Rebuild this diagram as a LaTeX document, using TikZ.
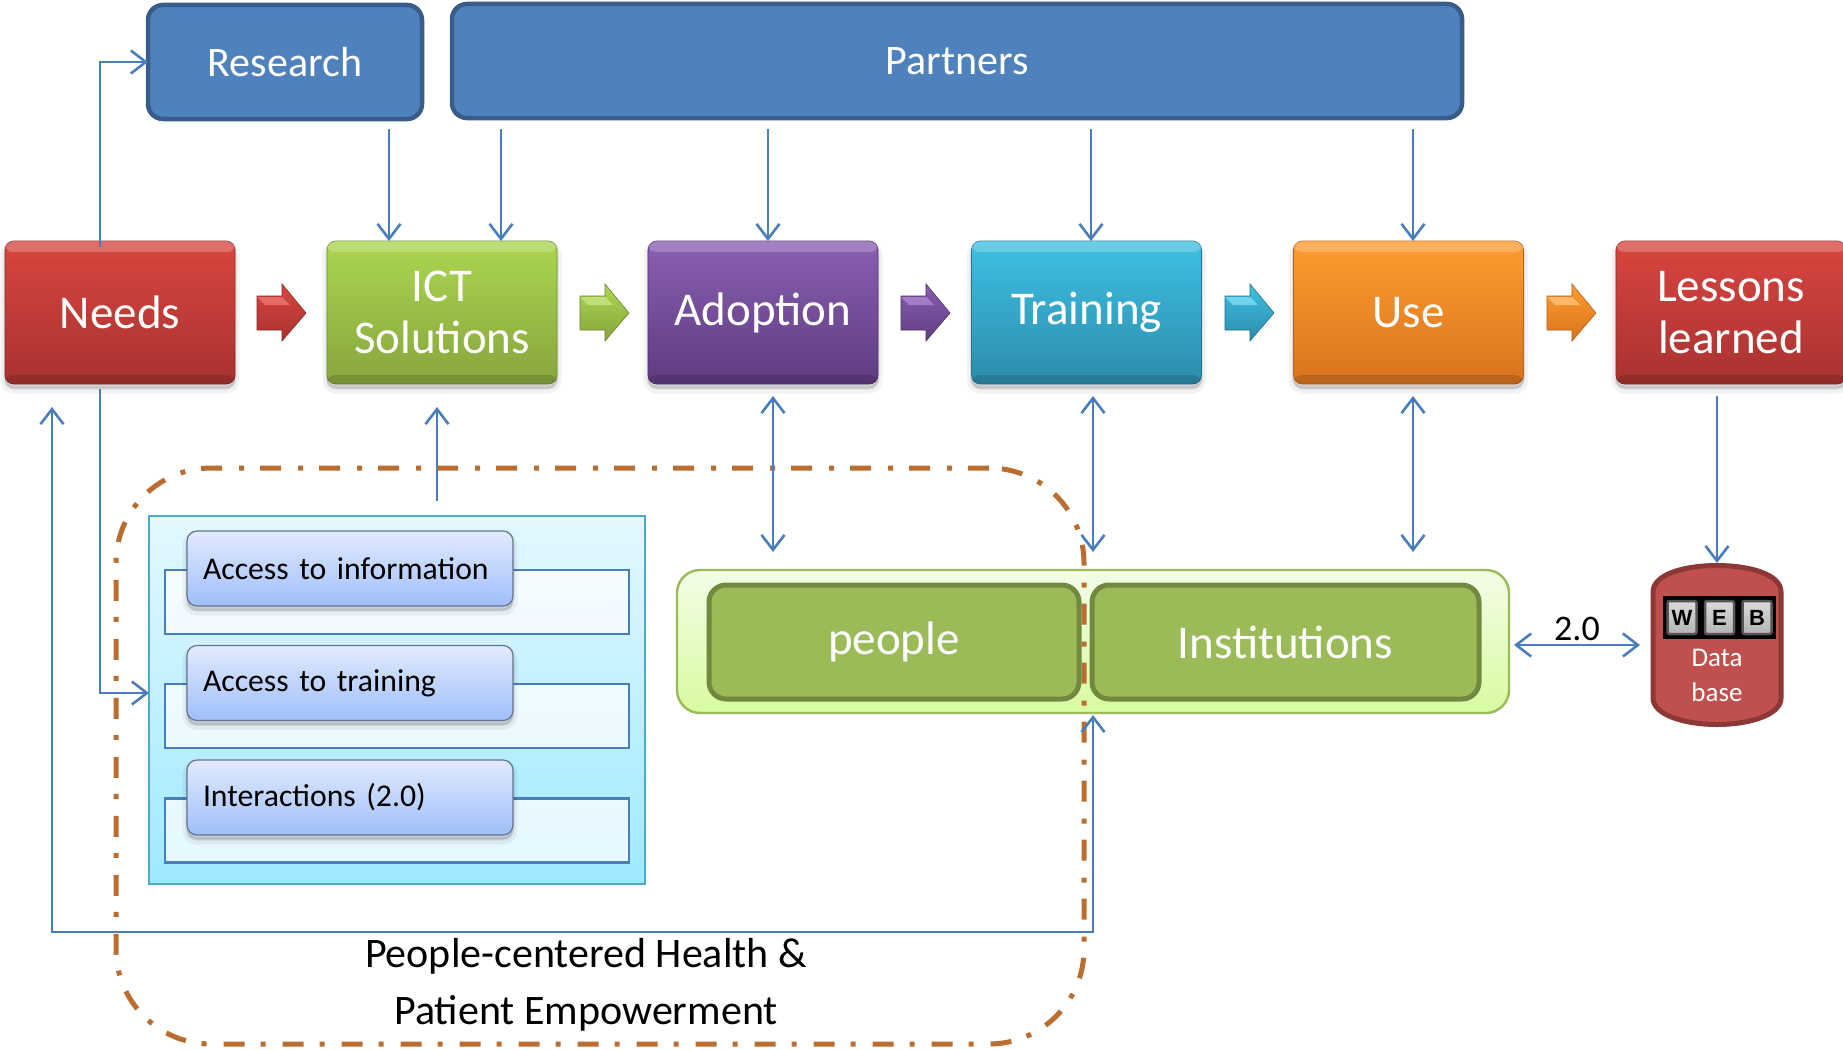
\documentclass[tikz,border=0pt]{standalone}
\usepackage{fontspec}
\setmainfont{Carlito}
\newfontfamily\keyfont{Liberation Sans}
\usetikzlibrary{arrows.meta,shadows,calc}
\definecolor{conn}{HTML}{4A7EBB}
\definecolor{dashc}{HTML}{B96D30}
\definecolor{redT}{HTML}{D9453F}\definecolor{redB}{HTML}{A83230}\definecolor{redL}{HTML}{EE7A76}
\definecolor{grnT}{HTML}{ABD650}\definecolor{grnB}{HTML}{87A53D}\definecolor{grnL}{HTML}{CBE88A}
\definecolor{purT}{HTML}{8A5FB2}\definecolor{purB}{HTML}{5E3C80}\definecolor{purL}{HTML}{B28BD4}
\definecolor{cyaT}{HTML}{3EC0E4}\definecolor{cyaB}{HTML}{2C8CAB}\definecolor{cyaL}{HTML}{86DFF4}
\definecolor{oraT}{HTML}{FF9C2E}\definecolor{oraB}{HTML}{D8731E}\definecolor{oraL}{HTML}{FFC87E}
\definecolor{panelT}{HTML}{E4F8FF}\definecolor{panelB}{HTML}{9EE9FF}\definecolor{panelE}{HTML}{4BACC6}
\definecolor{groupT}{HTML}{F3FDE8}\definecolor{groupB}{HTML}{D8FBA0}
\definecolor{dbF}{HTML}{C0504D}\definecolor{dbE}{HTML}{8C3836}
\definecolor{topfill}{HTML}{4F81BD}\definecolor{topedge}{HTML}{385D8A}
\definecolor{pilltop}{HTML}{E2EAFE}\definecolor{pillbot}{HTML}{9FBFFA}\definecolor{pilledge}{HTML}{66748F}
\definecolor{peerfill}{HTML}{9BBB59}\definecolor{peeredge}{HTML}{71893F}
\definecolor{keytop}{HTML}{DADADA}\definecolor{keybot}{HTML}{B4B4B4}\definecolor{keyedge}{HTML}{555555}
\newcommand{\fsz}[2]{\fontsize{#1}{#2}\selectfont}
\tikzset{
  x=1pt,y=-1pt,
  softshadow/.style={
    general shadow={draw=black,fill=black,draw opacity=.05,fill opacity=.05,line width=9pt,shadow yshift=-5pt},
    general shadow={draw=black,fill=black,draw opacity=.08,fill opacity=.08,line width=3pt,shadow yshift=-4pt}},
  stage/.style 2 args={softshadow,rectangle,rounded corners=9pt,minimum width=230pt,minimum height=143pt,
    inner sep=0pt,outer sep=0pt,top color=#1,bottom color=#2,draw=#2!85!black,line width=.8pt,text=white,align=center,
    font=\fsz{47}{52}},
  topbox/.style={rectangle,rounded corners=15pt,fill=topfill,draw=topedge,line width=4.5pt,inner sep=0pt,outer sep=0pt,
    minimum height=114pt,text=white,font=\fsz{42}{48}},
  gloss/.style={fill=white,fill opacity=.22,rounded corners=8pt},
  shade band/.style={fill=black,fill opacity=.13,rounded corners=8pt},
  link/.style={draw=conn,line width=2.6pt},
  tip/.style={-{Straight Barb[length=15pt,width=23pt,line width=2.6pt]}},
  tips/.style={{Straight Barb[length=15pt,width=23pt,line width=2.6pt]}-{Straight Barb[length=15pt,width=23pt,line width=2.6pt]}},
  rail/.style={rectangle,draw=conn,line width=2.4pt,fill=white,fill opacity=.72,minimum width=464pt,minimum height=64pt,inner sep=0pt,outer sep=0pt},
  pill/.style={softshadow,rectangle,rounded corners=10pt,top color=pilltop,bottom color=pillbot,draw=pilledge,line width=1.2pt,
    minimum width=326pt,minimum height=75pt,inner xsep=16pt,inner ysep=0pt,text width=294pt,align=left,outer sep=0pt,font=\fsz{31.7}{36},text=black},
  peer/.style={rectangle,rounded corners=17pt,fill=peerfill,draw=peeredge,line width=5pt,minimum height=114pt,inner sep=0pt,outer sep=0pt,
    text=white,font=\fsz{47}{52}},
  keycap/.style={rectangle,rounded corners=2pt,top color=keytop,bottom color=keybot,draw=keyedge,line width=2.5pt,
    minimum width=29pt,minimum height=33pt,inner sep=0pt,text=black,font=\keyfont\bfseries\fsz{22}{24}},
}
\newcommand{\stagebox}[5]{%
  \node[stage={#3}{#4}] (#1) at (#2,312.5) {#5};
  \fill[gloss] (#1.north west) rectangle ++(230,11);
  \fill[shade band] (#1.south west) rectangle ++(230,-9);
}
\newcommand{\blockarrow}[4]{%
  \shade[top color=#2,bottom color=#3,draw=#3!80!black,line width=.6pt]
    (#1,296)--({#1+25},296)--({#1+25},284)--({#1+49},313)--({#1+25},341)--({#1+25},330)--(#1,330)--cycle;
  \fill[#4,opacity=.75] (#1,297)--({#1+25},297)--({#1+33},305)--({#1+8},305)--cycle;
}
\begin{document}
\begin{tikzpicture}
\clip (0,0) rectangle (1843,1049);
\fill[white] (0,0) rectangle (1843,1049);

% top boxes
\node[topbox,minimum width=274pt] (research) at (285,62) {Research};
\node[topbox,minimum width=1010pt] (partners) at (957,61) {Partners};

% stages
\stagebox{needs}{120}{redT}{redB}{Needs}
\stagebox{ict}{442}{grnT}{grnB}{ICT\\Solutions}
\stagebox{adoption}{763}{purT}{purB}{Adoption}
\stagebox{training}{1086.5}{cyaT}{cyaB}{Training}
\stagebox{use}{1408.5}{oraT}{oraB}{Use}
\stagebox{lessons}{1731}{redT}{redB}{Lessons\\learned}

\blockarrow{257}{redT}{redB}{redL}
\blockarrow{580}{grnT}{grnB}{grnL}
\blockarrow{901}{purT}{purB}{purL}
\blockarrow{1225}{cyaT}{cyaB}{cyaL}
\blockarrow{1547}{oraT}{oraB}{oraL}

% practice panel
\node[rectangle,top color=panelT,bottom color=panelB,draw=panelE,line width=2.4pt,minimum width=496pt,minimum height=368pt,inner sep=0pt,outer sep=0pt] (panel) at (397,700) {};
\node[rail] (railA) at (397,602) {};
\node[rail] (railB) at (397,716) {};
\node[rail] (railC) at (397,830.5) {};
\node[pill] (pillA) at (350,568.5) {Access to information};
\node[pill] (pillB) at (350,683) {Access to training};
\node[pill] (pillC) at (350,797.5) {Interactions (2.0)};

% people / institutions
\node[rectangle,rounded corners=23pt,top color=groupT,bottom color=groupB,draw=peerfill,line width=2.4pt,minimum width=832pt,minimum height=143pt,inner sep=0pt,outer sep=0pt] (group) at (1093,641.5) {};
\node[peer,minimum width=370pt] (people) at (894,642) {people};
\node[peer,minimum width=387pt] (institutions) at (1285.5,642) {Institutions};

% dash-dotted boundary
\node[rectangle,rounded corners=95pt,draw=dashc,line width=5pt,dash pattern=on 21pt off 16pt on 5pt off 17pt,minimum width=968pt,minimum height=576pt,inner sep=0pt,outer sep=0pt] (scope) at (600,756) {};
\node[font=\fsz{42}{57},align=center,text=black,inner sep=0pt] (empower) at (586,985) {People-centered Health \&\\Patient Empowerment};

% database
\draw[fill=dbF,draw=dbE,line width=5pt] (1653,592) .. controls (1653,574) and (1685,565.5) .. (1717,565.5) .. controls (1749,565.5) and (1781,574) .. (1781,592) -- (1781,698) .. controls (1781,715) and (1749,724.5) .. (1717,724.5) .. controls (1685,724.5) and (1653,715) .. (1653,698) -- cycle;
\node[minimum width=133pt,minimum height=164pt,inner sep=0pt,outer sep=0pt] (db) at (1717,645) {};
\node[rectangle,fill=black,minimum width=113pt,minimum height=43pt,inner sep=0pt] (keyboard) at (1719.5,617.5) {};
\node[keycap] (keyW) at (1682,617.5) {W};
\node[keycap] (keyE) at (1719.5,617.5) {E};
\node[keycap] (keyB) at (1757,617.5) {B};
\node[text=white,font=\fsz{27}{35},align=center,inner sep=0pt] (dbtext) at (1717,675) {Data\\base};

% free ends
\coordinate (needsTop) at (100,247);
\coordinate (needsBot) at (100,389);
\coordinate (resDrop) at (389,129);
\coordinate (partA) at (501,129);
\coordinate (partB) at (768,129);
\coordinate (partC) at (1091,129);
\coordinate (partD) at (1413,129);
\coordinate (panelOut) at (437,501);
\coordinate (ictIn) at (437,407);
\coordinate (adU) at (773,396);\coordinate (adD) at (773,552);
\coordinate (trU) at (1093,396);\coordinate (trD) at (1093,552);
\coordinate (usU) at (1413,396);\coordinate (usD) at (1413,552);
\coordinate (lesOut) at (1717,396);
\coordinate (linkL) at (1514,645);\coordinate (linkR) at (1640,645);
\coordinate (loopR) at (1093,715);\coordinate (loopA) at (1093,932);\coordinate (loopB) at (52,932);\coordinate (loopL) at (52,407);
\coordinate (panelIn) at (149,693);

% connectors
\draw[link,tip] (needsTop) -- (needsTop |- research.west) -- (research.west);
\draw[link,tip] (resDrop) -- (resDrop |- ict.north);
\draw[link,tip] (partA) -- (partA |- ict.north);
\draw[link,tip] (partB) -- (partB |- adoption.north);
\draw[link,tip] (partC) -- (partC |- training.north);
\draw[link,tip] (partD) -- (partD |- use.north);
\draw[link,tip] (needsBot) -- (needsBot |- panelIn) -- (panelIn);
\draw[link,tip] (panelOut) -- (ictIn);
\draw[link,tips] (adU) -- (adD);
\draw[link,tips] (trU) -- (trD);
\draw[link,tips] (usU) -- (usD);
\draw[link,tip] (lesOut) -- (lesOut |- db.north);
\draw[link,tips] (linkL) -- node[above=3pt,text=black,font=\fsz{36}{40},inner sep=0pt] (weblabel) {2.0} (linkR);
\draw[link,tips] (loopR) -- (loopA) -- (loopB) -- (loopL);
\end{tikzpicture}
\end{document}
